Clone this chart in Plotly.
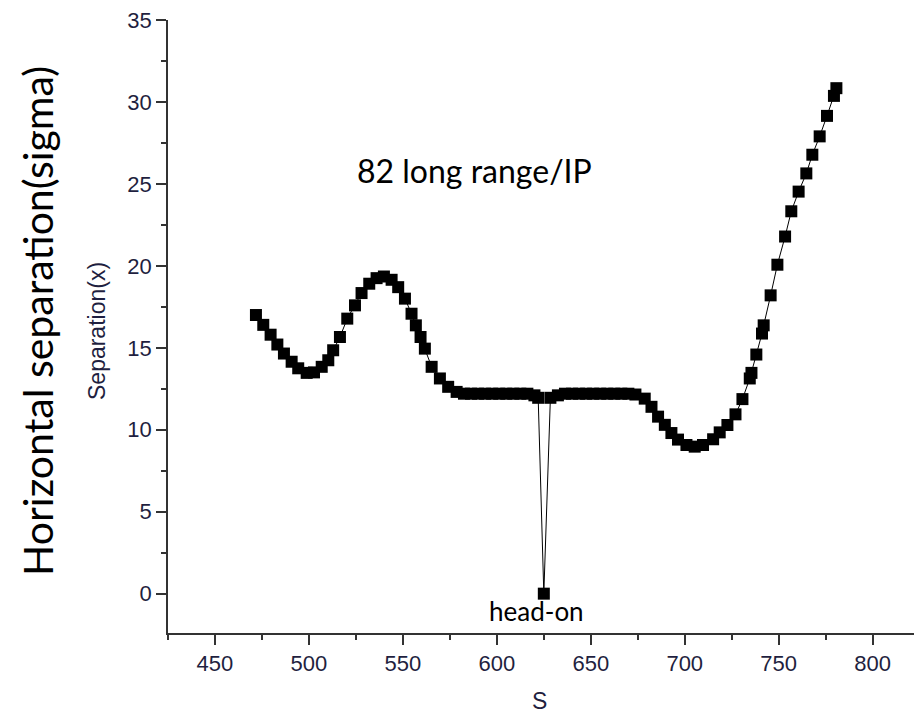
import plotly.graph_objects as go

# s positions (m) and horizontal separation (sigma)
s_left = [471.8, 475.7, 479.6, 483.2, 486.7, 490.8, 494.3, 498.8, 502.7, 506.8,
          510.3, 512.9, 516.5, 520.4, 524.5, 528.0, 532.1, 536.0, 539.9, 544.0,
          547.5, 551.1, 554.6, 556.9, 559.4, 561.7, 565.3, 569.7, 574.1, 578.6]
sep_left = [17.0, 16.4, 15.8, 15.2, 14.65, 14.15, 13.75, 13.47, 13.5, 13.84,
            14.24, 14.85, 15.66, 16.78, 17.59, 18.34, 18.91, 19.25, 19.35, 19.15,
            18.7, 18.0, 17.08, 16.37, 15.66, 14.95, 13.84, 13.13, 12.62, 12.31]

s_mid = [582.5, 586.25, 590.0, 593.75, 597.5, 601.25, 605.0, 608.75, 612.5, 616.25,
         620.0, 622.0, 625.0, 628.5, 632.5, 636.25, 640.0, 643.75, 647.5, 651.25,
         655.0, 658.75, 662.5, 666.25, 670.0, 673.75]
sep_mid = [12.2, 12.2, 12.2, 12.2, 12.2, 12.2, 12.2, 12.2, 12.2, 12.2,
           12.1, 11.95, 0.0, 11.95, 12.1, 12.2, 12.2, 12.2, 12.2, 12.2,
           12.2, 12.2, 12.2, 12.2, 12.2, 12.15]

s_right = [678.7, 682.3, 685.8, 689.4, 692.9, 696.4, 700.9, 705.3, 709.7, 715.1,
           718.6, 722.7, 727.0, 730.7, 734.6, 735.5, 738.1, 741.1, 742.0, 745.7,
           749.3, 753.4, 756.7, 760.6, 764.7, 767.9, 771.8, 775.7, 779.4, 780.7]
sep_right = [11.9, 11.4, 10.8, 10.3, 9.8, 9.4, 9.07, 8.97, 9.07, 9.42,
             9.84, 10.29, 10.94, 11.87, 13.13, 13.47, 14.59, 15.87, 16.37, 18.2,
             20.07, 21.79, 23.33, 24.53, 25.64, 26.78, 27.9, 29.15, 30.37, 30.84]

s_vals = s_left + s_mid + s_right
sep_vals = sep_left + sep_mid + sep_right

x_ticks = [450, 500, 550, 600, 650, 700, 750, 800]
y_ticks = [0, 5, 10, 15, 20, 25, 30, 35]

TICK_COLOR = "#1f1f40"
AX_COLOR = "#333333"

fig = go.Figure()
fig.add_trace(go.Scatter(
    x=s_vals, y=sep_vals, mode="lines+markers",
    line=dict(color="black", width=1),
    marker=dict(symbol="square", size=12, color="black"),
    showlegend=False, hoverinfo="skip",
))

axis_common = dict(
    showline=True, linecolor=AX_COLOR, linewidth=1.5,
    ticks="outside", ticklen=10, tickwidth=1.5, tickcolor=AX_COLOR,
    showgrid=False, zeroline=False,
    tickfont=dict(family="Liberation Sans, Arial", size=22, color=TICK_COLOR),
)

fig.update_xaxes(range=[425, 822], tickvals=x_ticks,
                 minor=dict(dtick=25, tick0=0, ticklen=5, ticks="outside",
                            tickcolor=AX_COLOR, tickwidth=1.5, showgrid=False),
                 **axis_common)
fig.update_yaxes(range=[-2.4, 35], tickvals=y_ticks,
                 minor=dict(dtick=2.5, tick0=0, ticklen=5, ticks="outside",
                            tickcolor=AX_COLOR, tickwidth=1.5, showgrid=False),
                 **axis_common)

L, T, W, H = 168, 20, 746, 613

def px(xp):
    return (xp - L) / W

def py(yp):
    return (T + H - yp) / H

ann = [
    dict(text="82 long range/IP", x=px(474), y=py(170),
         font=dict(family="Lato", size=32, color="black")),
    dict(text="head-on", x=px(536), y=py(611),
         font=dict(family="Lato", size=26, color="black")),
    dict(text="Horizontal separation(sigma)", x=px(37), y=py(321), textangle=-90,
         font=dict(family="Lato", size=41, color="black")),
    dict(text="Separation(x)", x=px(97), y=py(331), textangle=-90,
         font=dict(family="Liberation Sans, Arial", size=23, color=TICK_COLOR)),
    dict(text="S", x=px(539), y=py(701),
         font=dict(family="Liberation Sans, Arial", size=23, color=TICK_COLOR)),
]
for a in ann:
    a.update(xref="paper", yref="paper", showarrow=False,
             xanchor="center", yanchor="middle")

fig.update_layout(
    width=914, height=722,
    margin=dict(l=L, r=914 - L - W, t=T, b=722 - T - H, pad=0),
    paper_bgcolor="white", plot_bgcolor="white",
    annotations=ann,
)

fig.write_html("out.html")
